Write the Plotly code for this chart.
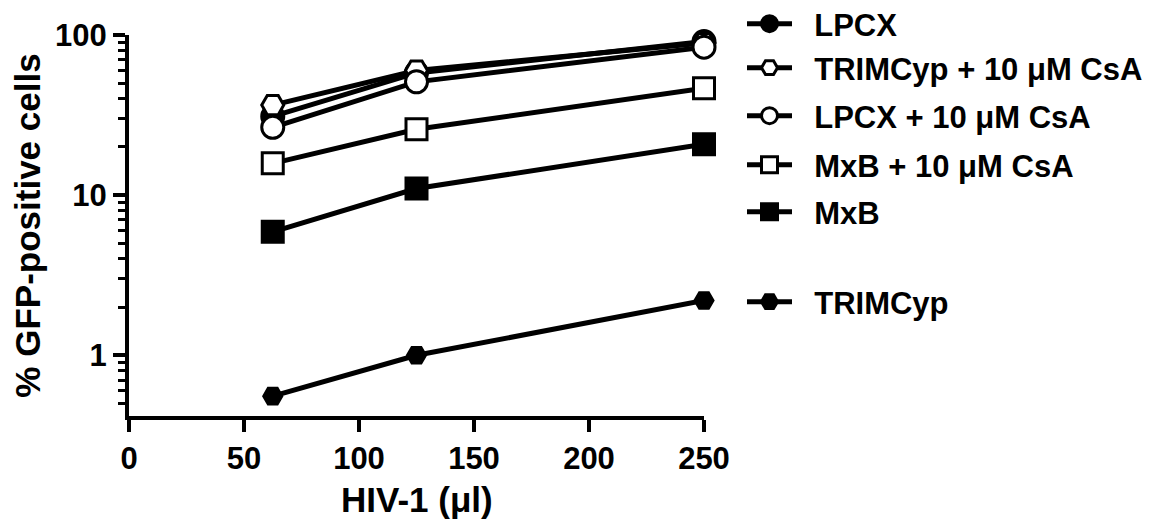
import plotly.graph_objects as go

x_vals = [62.5, 125, 250]
series_names = ["LPCX", "TRIMCyp + 10 μM CsA", "LPCX + 10 μM CsA", "MxB + 10 μM CsA", "MxB", "TRIMCyp"]
lpcx = [31, 58, 91]
trim_csa = [36.5, 60, 89]
lpcx_csa = [26.5, 51, 84]
mxb_csa = [15.8, 25.8, 46.5]
mxb = [5.9, 11.0, 20.8]
trimcyp = [0.556, 1.0, 2.2]
series_values = [lpcx, trim_csa, lpcx_csa, mxb_csa, mxb, trimcyp]
symbols = ["circle", "hexagon2", "circle", "square", "square", "hexagon2"]
fills = ["black", "white", "white", "white", "black", "black"]
sizes = [22, 22, 22, 21, 21, 18]
legend_y_px = [24, 68, 116, 165, 212, 302]

x_ticks = [0, 50, 100, 150, 200, 250]
y_ticks = [1, 10, 100]
y_minor = [0.5, 0.6, 0.7, 0.8, 0.9] + [2, 3, 4, 5, 6, 7, 8, 9] + [20, 30, 40, 50, 60, 70, 80, 90]

# page has an 8px body margin
OFF = 8
W, H = 1152 - 2 * OFF, 529 - 2 * OFF
PL, PR, PT, PB = 129, 704, 35, 416  # plot area in page pixels
L, R, T, B = PL - OFF, W - (PR - OFF), PT - OFF, H - (PB - OFF)

fig = go.Figure()
legend_font = dict(family="Liberation Sans, Arial, sans-serif", size=31, color="black", weight="bold")
for i, (name, vals, sym, fc, sz) in enumerate(zip(series_names, series_values, symbols, fills, sizes)):
    lname = "legend" if i == 0 else f"legend{i+1}"
    fig.add_trace(go.Scatter(
        x=x_vals, y=vals, name="\u00a0\u00a0" + name, mode="lines+markers",
        line=dict(color="black", width=5),
        marker=dict(symbol=sym, size=sz, color=fc, line=dict(color="black", width=3)),
        cliponaxis=False, legend=lname, showlegend=True,
    ))
    ypaper = (PB - legend_y_px[i]) / (PB - PT)
    fig.update_layout(**{lname: dict(x=(742 - PL) / (PR - PL), xanchor="left", y=ypaper, yanchor="middle",
                                     font=legend_font, bgcolor="rgba(0,0,0,0)",
                                     itemwidth=45, visible=True)})

tick_font = dict(family="Liberation Sans, Arial, sans-serif", size=31, color="black", weight="bold")
title_font = dict(family="Liberation Sans, Arial, sans-serif", size=35, color="black", weight="bold")
fig.update_layout(
    width=W, height=H, showlegend=True,
    margin=dict(l=L, r=R, t=T, b=B, autoexpand=False),
    plot_bgcolor="white", paper_bgcolor="white",
    xaxis=dict(range=[0, 250], tickvals=x_ticks, ticks="outside", ticklen=12, tickwidth=4,
               tickcolor="black", showline=True, linewidth=4, linecolor="black",
               showgrid=False, zeroline=False, tickfont=tick_font),
    yaxis=dict(type="log", range=[-0.379, 2], tickvals=y_ticks, ticktext=["1", "10", "100"],
               ticks="outside", ticklen=12, tickwidth=4, tickcolor="black",
               minor=dict(tickvals=y_minor, ticks="outside", ticklen=7, tickwidth=3, tickcolor="black", showgrid=False),
               showline=True, linewidth=4, linecolor="black", showgrid=False, zeroline=False,
               tickfont=tick_font,
               title=dict(text="% GFP-positive cells", font=title_font, standoff=10)),
    annotations=[dict(text="HIV-1 (μl)", xref="paper", yref="paper", x=0.5,
                      y=(PB - 499) / (PB - PT), xanchor="center", yanchor="middle",
                      showarrow=False, font=title_font)],
)
fig.write_html("out.html")
